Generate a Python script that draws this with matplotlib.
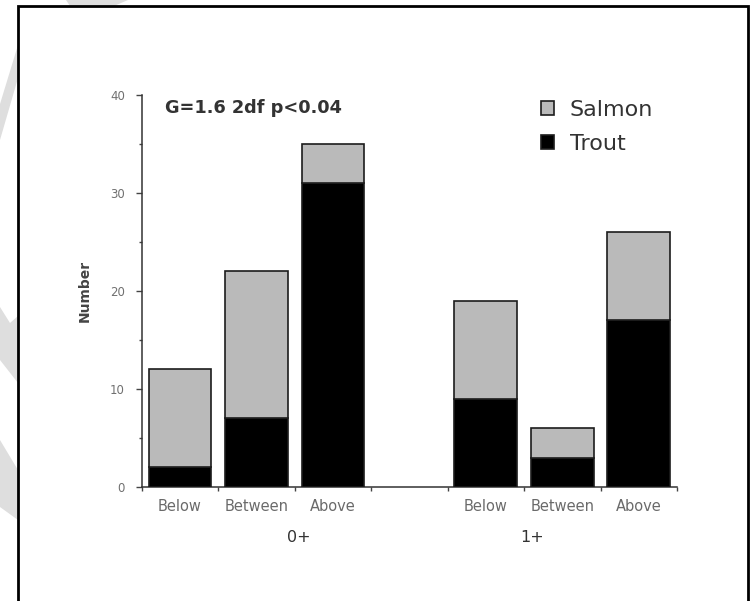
import matplotlib
matplotlib.use("Agg")
import matplotlib.pyplot as plt
from matplotlib.patches import Patch, Rectangle, Polygon

# Counts
CATEGORIES = ["Below", "Between", "Above"]
AGE_GROUPS = ["0+", "1+"]
TROUT = [2, 7, 31, 9, 3, 17]
SALMON = [10, 15, 4, 10, 3, 9]
STAT_TEXT = "G=1.6 2df p<0.04"

SALMON_GREY = "#bababa"
INK = "#1c1c1c"

plt.rcParams["font.family"] = ["DejaVu Sans"]

W, H = 751, 601
fig = plt.figure(figsize=(W / 100, H / 100), dpi=100)


def fx(px):
    return px / W


def fy(py):
    return 1 - py / H


# light grey watermark bits down the left margin (outside the frame)
for pts in [
    [(66, 0), (128, 0), (114, 6), (70, 6)],
    [(0, 104), (18, 45), (18, 78), (0, 140)],
    [(0, 307), (10, 323), (18, 316), (18, 383), (0, 360)],
    [(0, 440), (18, 470), (18, 520), (0, 507)],
]:
    fig.patches.append(
        Polygon([(fx(a), fy(b)) for a, b in pts], closed=True, facecolor="#dedede",
                edgecolor="none", transform=fig.transFigure, zorder=0)
    )

# black frame of the scanned panel
fig.patches.append(
    Rectangle((fx(18), -0.05), fx(748) - fx(18), fy(6) + 0.05, fill=False,
              edgecolor="black", linewidth=2.0, transform=fig.transFigure, zorder=1)
)

ax = fig.add_axes([fx(141.7), fy(487), fx(677) - fx(141.7), fy(95) - fy(487)])
ax.patch.set_alpha(0)

slots = [0, 1, 2, 4, 5, 6]
xpos = [s + 0.5 for s in slots]
width = 0.82

ax.bar(xpos, TROUT, width=width, color="black", edgecolor=INK, linewidth=1.2, zorder=3)
ax.bar(xpos, SALMON, bottom=TROUT, width=width, color=SALMON_GREY, edgecolor=INK,
       linewidth=1.2, zorder=3)

ax.set_xlim(0, 7)
ax.set_ylim(0, 40)
ax.spines["top"].set_visible(False)
ax.spines["right"].set_visible(False)
for side in ["left", "bottom"]:
    ax.spines[side].set_linewidth(1.1)
    ax.spines[side].set_color("#333333")

ax.set_yticks([0, 10, 20, 30, 40])
ax.set_yticks([5, 15, 25, 35], minor=True)
ax.tick_params(axis="y", which="major", length=4, width=1, color="#444444",
               labelsize=8.5, labelcolor="#707070", pad=8)
ax.tick_params(axis="y", which="minor", length=2, width=1, color="#444444")

ax.set_xticks(range(8))
ax.set_xticklabels([])
ax.tick_params(axis="x", which="major", length=3, width=1, color="#444444")

for x, name in zip(xpos, CATEGORIES * 2):
    ax.text(x, -2.0, name, ha="center", va="center", fontsize=10.5, color="#6a6a6a")

for x, grp in zip([2.05, 5.1], AGE_GROUPS):
    ax.text(x, -5.2, grp, ha="center", va="center", fontsize=11.5, color="#333333")

ax.set_ylabel("Number", fontsize=10, color="#444444", fontweight="bold", labelpad=13)

ax.text(0.3, 38.7, STAT_TEXT, ha="left", va="center", fontsize=12.8, color="#333333",
        fontweight="bold")

handles = [Patch(facecolor=SALMON_GREY, edgecolor=INK, linewidth=1.2),
           Patch(facecolor="black", edgecolor=INK, linewidth=1.2)]
ax.legend(handles, ["Salmon", "Trout"], loc="upper left",
          bbox_to_anchor=(fx(521), fy(80)), bbox_transform=fig.transFigure,
          frameon=False, fontsize=16, handlelength=0.6, handleheight=0.6,
          handletextpad=0.7, labelspacing=0.62, labelcolor="#333333")

fig.savefig("out.png", dpi=100)
